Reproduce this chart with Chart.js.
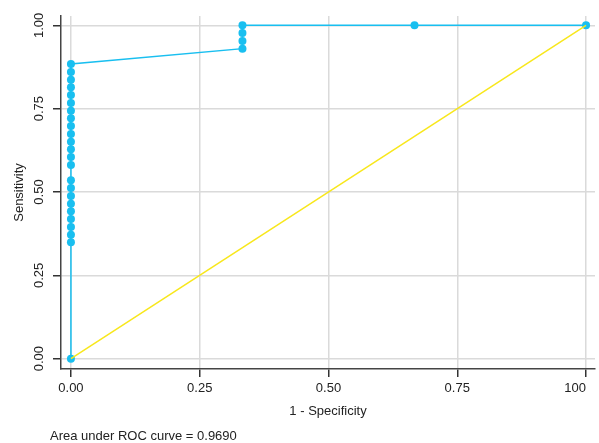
<!DOCTYPE html>
<html>
<head>
<meta charset="utf-8">
<script src="https://cdn.jsdelivr.net/npm/chart.js@4/dist/chart.umd.min.js"></script>
<style>
  html, body { margin: 0; padding: 0; background: #fff; }
</style>
</head>
<body>
<canvas id="roc" width="599" height="443"></canvas>
<script>
// ROC points (1 - specificity, sensitivity)
const fpr = [0, 0, 0, 0, 0, 0, 0, 0, 0, 0, 0, 0, 0, 0, 0, 0, 0, 0, 0, 0, 0, 0, 0, 0,
  0.333, 0.333, 0.333, 0.333, 0.667, 1];
const sens = [0, 0.349, 0.372, 0.395, 0.419, 0.442, 0.465, 0.488, 0.512, 0.535,
  0.581, 0.605, 0.628, 0.651, 0.674, 0.698, 0.721, 0.744, 0.767, 0.791, 0.814, 0.837, 0.860, 0.884,
  0.930, 0.953, 0.977, 1, 1, 1];
const refX = [0, 1];
const refY = [0, 1];

const X_MIN = -0.0193, X_MAX = 1.0174;
const Y_MIN = -0.031, Y_MAX = 1.028;
const tickVals = [0, 0.25, 0.5, 0.75, 1];
// first x tick is a blank one at the axis edge so 'inner' alignment only pulls the last label in
const xTickVals = [X_MIN, 0, 0.25, 0.5, 0.75, 1];
const xTickLabels = ['', '0.00', '0.25', '0.50', '0.75', '100'];
const yTickLabels = ['0.00', '0.25', '0.50', '0.75', '1.00'];
const aucText = 'Area under ROC curve = 0.9690';

const FONT = '"Liberation Sans", Arial, sans-serif';
const CYAN = '#19bff0';
const YELLOW = '#f8e71c';
const GRID = '#dadada';
const INK = '#222';
const NONE = 'rgba(0,0,0,0)';

const toPts = (xs, ys) => xs.map((x, i) => ({ x, y: ys[i] }));

// note under the plot, left-aligned like the original
const notePlugin = {
  id: 'aucNote',
  afterDraw(chart) {
    const ctx = chart.ctx;
    ctx.save();
    ctx.font = '13px ' + FONT;
    ctx.fillStyle = INK;
    ctx.textBaseline = 'middle';
    ctx.textAlign = 'left';
    ctx.fillText(aucText, 50, 436);
    ctx.restore();
  },
};

new Chart(document.getElementById('roc'), {
  type: 'scatter',
  data: {
    datasets: [
      {
        data: toPts(refX, refY), showLine: true, borderColor: YELLOW, borderWidth: 1.5,
        pointRadius: 0, pointHoverRadius: 0,
      },
      {
        data: toPts(fpr, sens), showLine: true, borderColor: CYAN, borderWidth: 1.5,
        pointRadius: 4, pointBackgroundColor: CYAN, pointBorderColor: CYAN, pointBorderWidth: 0,
      },
    ],
  },
  options: {
    responsive: false,
    animation: false,
    devicePixelRatio: 1,
    layout: { padding: { top: 16, right: 0, bottom: 24, left: 0 } },
    plugins: { legend: { display: false }, tooltip: { enabled: false } },
    scales: {
      x: {
        type: 'linear', min: X_MIN, max: X_MAX,
        afterBuildTicks: s => { s.ticks = xTickVals.map(v => ({ value: v })); },
        afterFit: s => { s.height = 50; s.paddingRight = 0; s.paddingLeft = 0; },
        ticks: {
          callback: (v, i) => xTickLabels[i], color: INK, font: { family: FONT, size: 13 },
          padding: 4, align: 'inner', maxRotation: 0,
        },
        grid: {
          color: c => (c.index === 0 ? NONE : GRID), lineWidth: 1.5,
          tickColor: c => (c.index === 0 ? NONE : '#333'), tickLength: 8,
        },
        border: { color: '#444', width: 1.5 },
        title: { display: true, text: '1 - Specificity', color: INK, font: { family: FONT, size: 13 }, padding: { top: 0, bottom: 0 } },
      },
      y: {
        type: 'linear', min: Y_MIN, max: Y_MAX,
        afterBuildTicks: s => { s.ticks = tickVals.map(v => ({ value: v })); },
        afterFit: s => { s.width = 61; },
        ticks: {
          callback: (v, i) => yTickLabels[i], color: INK, font: { family: FONT, size: 13 },
          minRotation: 90, maxRotation: 90, crossAlign: 'center', padding: 1,
        },
        grid: { color: GRID, lineWidth: 1.5, tickColor: '#333', tickLength: 8 },
        border: { color: '#444', width: 1.5 },
        title: { display: true, text: 'Sensitivity', color: INK, font: { family: FONT, size: 13 }, padding: { top: 12, bottom: 0 } },
      },
    },
  },
  plugins: [notePlugin],
});
</script>
</body>
</html>
